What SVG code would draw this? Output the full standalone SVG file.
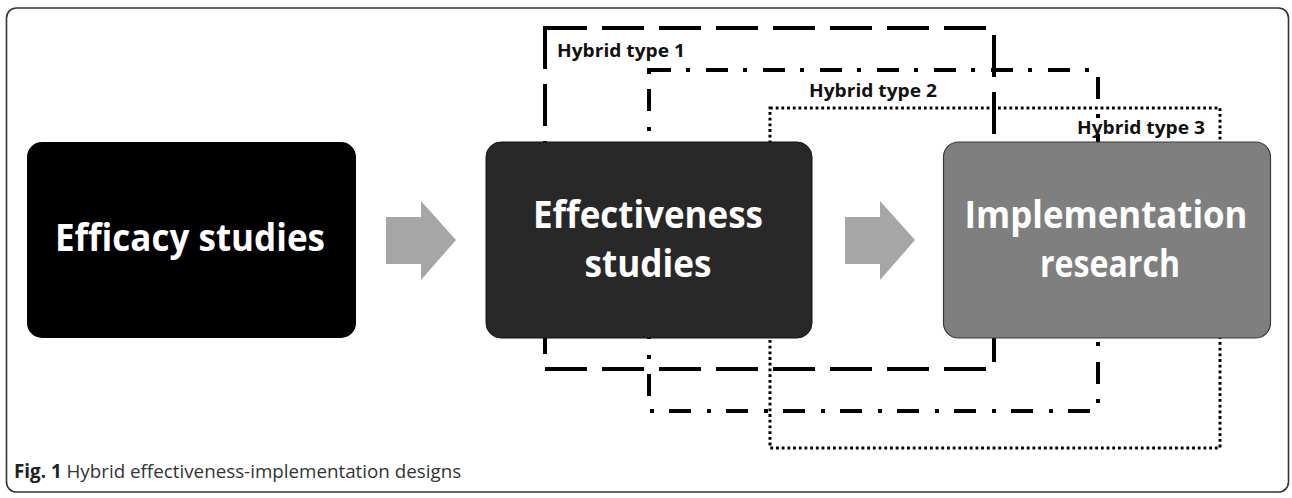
<svg xmlns="http://www.w3.org/2000/svg" width="1292" height="498" viewBox="0 0 1292 498">
<style>
.frame{fill:#fff;stroke:#333;stroke-width:1.6}
.h1{fill:none;stroke:#000;stroke-width:4;stroke-dasharray:42 15}
.h2{fill:none;stroke:#000;stroke-width:4;stroke-dasharray:22 15 4 16}
.h3{fill:none;stroke:#000;stroke-width:3;stroke-dasharray:2.8 2.9}
.lbl{font-family:"Open Sans","DejaVu Sans",sans-serif;font-weight:bold;font-size:17px;fill:#111}
.big{font-family:"Open Sans","DejaVu Sans",sans-serif;font-weight:bold;font-size:37px;fill:#fff;text-anchor:middle}
.arrow{fill:#a6a6a6}
.cap{font-family:"Open Sans","DejaVu Sans",sans-serif;font-size:18.8px;fill:#333}
</style>
<rect class="frame" x="6.5" y="8" width="1282" height="484" rx="10"/>
<g id="hybrid-types">
<path id="hybrid1" class="h1" d="M545 28 H994 V369 H545 Z"/>
<path id="hybrid2" class="h2" d="M649 70 H1098 V411 H649 Z"/>
<path id="hybrid3" class="h3" d="M770 108 H1220 V448 H770 Z"/>
<text class="lbl" x="557" y="57" textLength="128" lengthAdjust="spacingAndGlyphs">Hybrid type 1</text>
<text class="lbl" x="809" y="97" textLength="128" lengthAdjust="spacingAndGlyphs">Hybrid type 2</text>
<text class="lbl" x="1077" y="134" textLength="128" lengthAdjust="spacingAndGlyphs">Hybrid type 3</text>
</g>
<g id="connectors">
<polygon class="arrow" points="386,217 421,217 421,201 456,240 421,280 421,264 386,264"/>
<polygon class="arrow" points="845,217 880,217 880,201 915,240 880,280 880,264 845,264"/>
</g>
<g id="efficacy">
<rect x="27" y="142" width="329" height="196" rx="15" fill="#000"/>
<text class="big" x="190" y="251" font-size="39" textLength="270" lengthAdjust="spacingAndGlyphs">Efficacy studies</text>
</g>
<g id="effectiveness">
<rect x="486" y="142" width="326" height="196" rx="15" fill="#282828" stroke="#111" stroke-width="1"/>
<text class="big" x="648" y="228" textLength="230" lengthAdjust="spacingAndGlyphs">Effectiveness</text>
<text class="big" x="648" y="277" textLength="127" lengthAdjust="spacingAndGlyphs">studies</text>
</g>
<g id="implementation">
<rect x="943.5" y="142" width="327" height="196" rx="15" fill="#7f7f7f" stroke="#3a3a3a" stroke-width="1.2"/>
<text class="big" x="1106" y="228" textLength="283" lengthAdjust="spacingAndGlyphs">Implementation</text>
<text class="big" x="1110" y="277" textLength="140" lengthAdjust="spacingAndGlyphs">research</text>
</g>
<text class="cap" x="14" y="478"><tspan font-weight="bold" fill="#222">Fig. 1</tspan> Hybrid effectiveness-implementation designs</text>
</svg>
